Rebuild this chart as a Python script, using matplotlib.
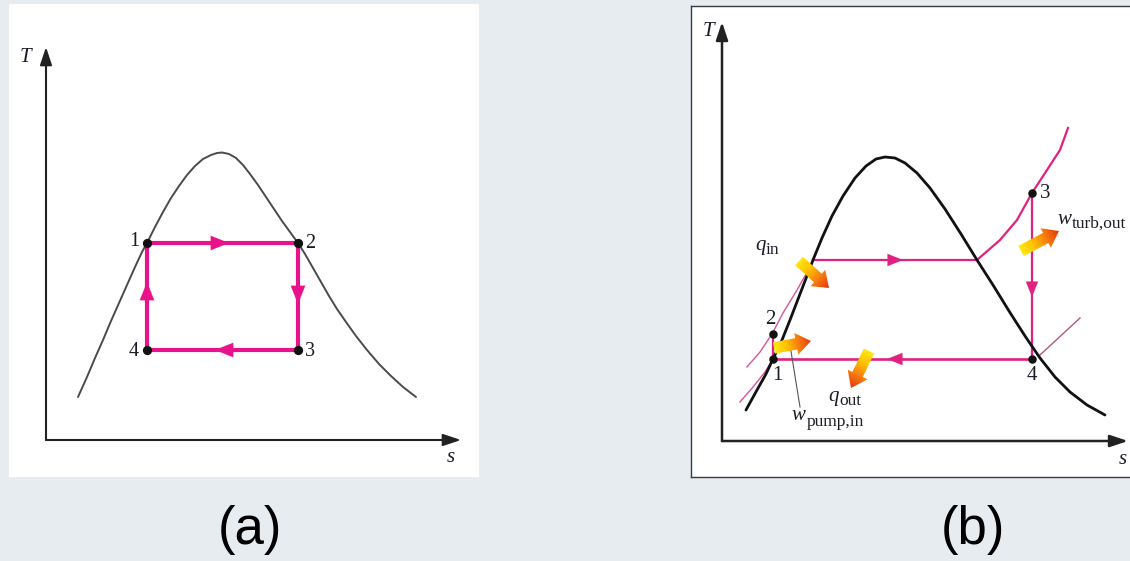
import numpy as np
import matplotlib
matplotlib.use("Agg")
import matplotlib.pyplot as plt
from matplotlib.patches import FancyArrow
from matplotlib.colors import LinearSegmentedColormap

# ---------------- data (s, T in arbitrary units) -------------
# Panel (a): Carnot cycle inside the vapour dome
dome_a_s = [3.2, 4.1, 4.9, 5.7, 6.5, 7.3, 8.1, 8.9, 9.6, 10.1, 10.9, 11.7, 12.5, 13.3,
            14.1, 14.9, 15.7, 16.5, 17.1, 17.6, 18.3, 19.0, 19.7, 20.4, 21.2, 22.0, 22.8,
            23.6, 24.4, 25.2, 25.9, 26.7, 27.5, 28.3, 29.1, 30.0, 31.0, 32.1, 33.3, 34.5,
            35.7, 37.0]
dome_a_T = [4.3, 6.3, 8.2, 10.0, 11.9, 13.7, 15.5, 17.3, 18.8, 19.7, 21.3, 22.8, 24.2, 25.4,
            26.5, 27.4, 28.1, 28.5, 28.7, 28.75, 28.6, 28.2, 27.5, 26.6, 25.5, 24.3, 23.1,
            21.9, 20.8, 19.7, 18.6, 17.2, 15.8, 14.4, 13.1, 11.8, 10.4, 9.0, 7.6, 6.4,
            5.3, 4.3]
cycle_a_s = [10.1, 25.2, 25.2, 10.1]          # states 1, 2, 3, 4
cycle_a_T = [19.7, 19.7, 9.0, 9.0]
state_labels = ["1", "2", "3", "4"]

# Panel (b): Rankine cycle
dome_b_s = [2.4, 3.5, 4.4, 5.1, 6.0, 6.8, 7.8, 8.8, 9.1, 10.0, 11.0, 12.1, 13.3, 14.4,
            15.4, 16.3, 17.3, 18.3, 19.5, 20.8, 22.3, 23.9, 25.5, 27.1, 28.7, 30.3, 31.8,
            33.3, 34.8, 36.5, 38.3]
dome_b_T = [3.1, 5.1, 6.7, 8.2, 10.1, 12.1, 14.7, 17.3, 18.1, 20.3, 22.5, 24.5, 26.3, 27.5,
            28.2, 28.4, 28.3, 27.8, 26.8, 25.3, 23.2, 20.7, 18.1, 15.6, 13.0, 10.5, 8.3,
            6.4, 4.9, 3.6, 2.6]
states_b_s = [5.1, 5.1, 31.0, 31.0]            # states 1, 2, 3, 4
states_b_T = [8.2, 10.7, 24.8, 8.2]
boil_s = [9.1, 25.5]                            # evaporation at high pressure
boil_T = [18.1, 18.1]
superheat_s = [25.5, 27.8, 29.5, 31.0, 32.5, 33.8, 34.6]
superheat_T = [18.1, 20.1, 22.1, 24.8, 27.1, 29.1, 31.3]
hp_liquid_s = [2.5, 3.8, 5.0, 6.1, 7.5, 8.8, 9.1]
hp_liquid_T = [7.4, 8.9, 10.7, 12.8, 15.1, 17.4, 18.1]
lp_liquid_s = [1.8, 3.1, 4.3, 5.1]
lp_liquid_T = [3.9, 5.4, 6.9, 8.2]
lp_vapour_s = [31.8, 35.8]
lp_vapour_T = [8.6, 12.3]

# energy arrows (tail, tip) and their labels (symbol, subscript, baseline position)
energy_tail = [(7.7, 18.0), (5.2, 9.3), (14.7, 9.0), (29.9, 19.0)]
energy_tip = [(10.7, 15.3), (8.9, 10.0), (12.9, 5.3), (33.7, 21.0)]
energy_sym = ["q", "w", "q", "w"]
energy_sub = ["in", "pump,in", "out", "turb,out"]
energy_label_pos = [(3.3, 19.1), (7.0, 2.1), (10.6, 4.0), (33.5, 21.7)]
energy_sub_drop = [4, 6, 4, 4]   # pixels

panel_captions = ["(a)", "(b)"]

# ---------------- style ----------------
BG = "#e7ecf1"
PINK_A = "#e8138a"
PINK_B = "#e0217f"
THIN_PINK = "#d9559a"
TXT = "#1c1c28"
SERIF = "Liberation Serif"

W, H = 1130, 561
fig = plt.figure(figsize=(W / 100, H / 100), dpi=100, facecolor=BG)
renderer = fig.canvas.get_renderer()


def px_axes(x0, y0, x1, y1):
    return fig.add_axes([x0 / W, 1 - y1 / H, (x1 - x0) / W, (y1 - y0) / H])


def strip(ax):
    ax.set_xticks([])
    ax.set_yticks([])
    for sp in ax.spines.values():
        sp.set_visible(False)
    ax.set_facecolor("white")


def axis_arrow(ax, start, end, lw, color="#222222"):
    ax.annotate("", xy=end, xytext=start,
                arrowprops=dict(arrowstyle="-|>,head_length=0.9,head_width=0.3",
                                lw=lw, color=color, shrinkA=0, shrinkB=0,
                                mutation_scale=12), zorder=2)


def head(ax, tail, tip, color, scale):
    ax.annotate("", xy=tip, xytext=tail,
                arrowprops=dict(arrowstyle="-|>,head_length=1.0,head_width=0.4",
                                lw=0.1, color=color, shrinkA=0, shrinkB=0,
                                mutation_scale=scale), zorder=4)


cmap = LinearSegmentedColormap.from_list("heat", ["#ffe817", "#ffc000", "#f87a10", "#e2380c"])


def grad_arrow(ax, tail, tip, width, hw, hl, z=6):
    tail = np.asarray(tail, float)
    tip = np.asarray(tip, float)
    d = tip - tail
    arr = FancyArrow(tail[0], tail[1], d[0], d[1], width=width, head_width=hw,
                     head_length=hl, length_includes_head=True, fc="none", ec="none")
    ax.add_patch(arr)
    xy = arr.get_xy()
    x0, x1 = xy[:, 0].min(), xy[:, 0].max()
    y0, y1 = xy[:, 1].min(), xy[:, 1].max()
    gx = np.linspace(x0, x1, 60)
    gy = np.linspace(y0, y1, 60)
    X, Y = np.meshgrid(gx, gy)
    t = ((X - tail[0]) * d[0] + (Y - tail[1]) * d[1]) / (d @ d)
    im = ax.imshow(np.clip(t, 0, 1), extent=(x0, x1, y0, y1), origin="lower", cmap=cmap,
                   vmin=0, vmax=1, aspect="auto", interpolation="bilinear", zorder=z)
    im.set_clip_path(arr)


def sub_label(ax, x, y, sym, sub, drop, fs=15, fs_sub=12.5):
    t = ax.text(x, y, sym, fontsize=fs, family=SERIF, style="italic", color=TXT,
                ha="left", va="baseline", zorder=7)
    bb = t.get_window_extent(renderer)
    ax.annotate(sub, xy=(x, y), xytext=(bb.width + 0.5, -drop), textcoords="offset pixels",
                fontsize=fs_sub, family=SERIF, color=TXT, ha="left", va="baseline",
                zorder=7, annotation_clip=False)


# ================= panel (a) =================
axa = px_axes(9, 4, 479, 477)
strip(axa)
axa.set_xlim(-3.7, 43.3)
axa.set_ylim(-3.7, 43.6)
axa.plot(dome_a_s, dome_a_T, color="#4a4a4a", lw=1.4, zorder=2, solid_capstyle="round",
         solid_joinstyle="round")
cs = cycle_a_s + [cycle_a_s[0]]
cT = cycle_a_T + [cycle_a_T[0]]
axa.plot(cs, cT, color=PINK_A, lw=3.0, zorder=3, solid_joinstyle="miter")
# direction heads: 1->2, 2->3, 3->4, 4->1
head(axa, (16.6, 19.7), (18.3, 19.7), PINK_A, 13)
head(axa, (25.2, 15.3), (25.2, 13.6), PINK_A, 13)
head(axa, (18.6, 9.0), (16.9, 9.0), PINK_A, 13)
head(axa, (10.1, 14.0), (10.1, 15.8), PINK_A, 13)
axa.scatter(cycle_a_s, cycle_a_T, s=32, color="#111111", zorder=5)
lab_pos_a = [(9.3, 19.9, "right"), (25.9, 19.7, "left"), (25.9, 8.8, "left"), (9.3, 8.8, "right")]
for lab, (x, y, ha) in zip(state_labels, lab_pos_a):
    axa.text(x, y, lab, ha=ha, va="center", fontsize=14.5, family=SERIF, color=TXT)
axis_arrow(axa, (0, 0), (0, 39.3), 1.5)
axis_arrow(axa, (0, 0), (41.5, 0), 1.5)
axa.text(-2.1, 38.3, "T", fontsize=15, family=SERIF, style="italic", color=TXT,
         ha="center", va="center")
axa.text(40.5, -1.8, "s", fontsize=15, family=SERIF, style="italic", color=TXT,
         ha="center", va="center")

# ================= panel (b) =================
axb = px_axes(691, 6, 1140, 477)
axb.set_xticks([])
axb.set_yticks([])
axb.set_facecolor("white")
for name, sp in axb.spines.items():
    sp.set_color("#3a3a3a")
    sp.set_linewidth(1.0)
axb.spines["right"].set_visible(False)
axb.set_xlim(-3.1, 41.8)
axb.set_ylim(-3.6, 43.5)

# isobars / process lines
axb.plot(hp_liquid_s, hp_liquid_T, color=THIN_PINK, lw=1.0, zorder=3)
axb.plot(lp_liquid_s, lp_liquid_T, color=THIN_PINK, lw=1.0, zorder=3)
axb.plot(lp_vapour_s, lp_vapour_T, color="#b0587f", lw=1.0, zorder=3)
axb.plot(superheat_s, superheat_T, color=PINK_B, lw=1.6, zorder=3)
axb.plot(boil_s, boil_T, color=PINK_B, lw=1.6, zorder=3)
axb.plot([states_b_s[2], states_b_s[3]], [states_b_T[2], states_b_T[3]], color=PINK_B, lw=1.6, zorder=3)
axb.plot([states_b_s[3], states_b_s[0]], [states_b_T[3], states_b_T[0]], color=PINK_B, lw=1.9, zorder=3)
axb.plot([states_b_s[0], states_b_s[1]], [states_b_T[0], states_b_T[1]], color=PINK_B, lw=1.6, zorder=3)
head(axb, (16.5, 18.1), (18.1, 18.1), PINK_B, 11)
head(axb, (31.0, 16.0), (31.0, 14.4), PINK_B, 11)
head(axb, (18.1, 8.2), (16.5, 8.2), PINK_B, 11)

# saturation dome
axb.plot(dome_b_s, dome_b_T, color="#111111", lw=2.0, zorder=4, solid_capstyle="round",
         solid_joinstyle="round")

axb.scatter(states_b_s, states_b_T, s=26, color="#111111", zorder=5)
lab_b = [(5.5, 6.5), (4.8, 12.2), (32.3, 24.7), (31.0, 6.6)]
for lab, (x, y) in zip(state_labels, lab_b):
    axb.text(x, y, lab, ha="center", va="center", fontsize=15, family=SERIF, color=TXT)

# energy arrows
for tail, tip in zip(energy_tail, energy_tip):
    grad_arrow(axb, tail, tip, width=1.15, hw=2.2, hl=1.5)
for sym, sub, (x, y), dr in zip(energy_sym, energy_sub, energy_label_pos, energy_sub_drop):
    sub_label(axb, x, y, sym, sub, dr)
# leader line for pump work
axb.plot([7.8, 6.8], [3.4, 9.6], color="#555555", lw=0.8, zorder=5)

axis_arrow(axb, (0, 0), (0, 41.9), 1.8)
axis_arrow(axb, (0, 0), (40.6, 0), 1.8)
axb.text(-1.4, 41.0, "T", fontsize=15, family=SERIF, style="italic", color=TXT,
         ha="center", va="center")
axb.text(40.1, -1.9, "s", fontsize=15, family=SERIF, style="italic", color=TXT,
         ha="center", va="center")
axb.set_xlim(-3.1, 41.8)
axb.set_ylim(-3.6, 43.5)

# captions
for cap, cx in zip(panel_captions, [250, 973]):
    fig.text(cx / W, 1 - 530 / H, cap, ha="center", va="center", fontsize=38,
             family="Liberation Sans", color="black")

fig.savefig("out.png", dpi=100, facecolor=BG)
